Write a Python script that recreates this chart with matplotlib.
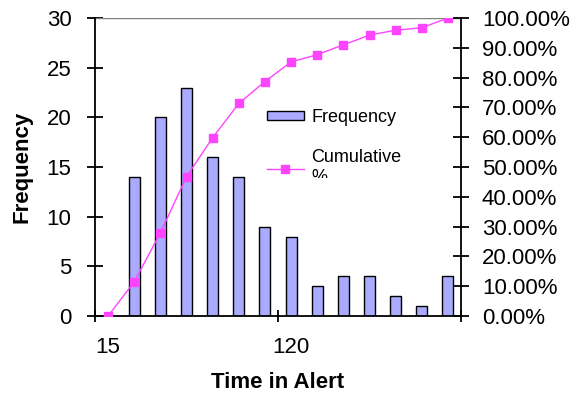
import numpy as np
import matplotlib.pyplot as plt
from matplotlib.transforms import Bbox

plt.rcParams['font.family'] = ['Liberation Sans', 'DejaVu Sans']

# histogram bins (Time in Alert) and counts
bins = [15, 30, 45, 60, 75, 90, 105, 120, 135, 150, 165, 180, 195, 210]
freq = [0, 14, 20, 23, 16, 14, 9, 8, 3, 4, 4, 2, 1, 4]
cum = np.cumsum(freq) / np.sum(freq) * 100

x = np.arange(len(bins))

fig = plt.figure(figsize=(5.76, 3.95), dpi=100)
ax = fig.add_axes([95/576, 1-316/395, (461-95)/576, (316-18)/395])
ax2 = ax.twinx()

ax.bar(x, freq, width=0.42, color='#aaaaff', edgecolor='black', linewidth=1, label='Frequency')
ax.set_xlim(-0.5, len(bins)-0.5)
ax.set_ylim(0, 30)
ax.set_yticks(range(0, 31, 5))
ax.axhline(30, color='gray', lw=1)

ax2.plot(x, cum, color='#ff44ff', marker='s', markersize=6, lw=1, label='Cumulative\n%')
ax2.set_ylim(0, 100)
ax2.set_yticks(range(0, 101, 10))
ax2.set_yticklabels(['%.2f%%' % v for v in range(0, 101, 10)])

# x tick marks at boundaries every 7 bins, labels at bin centres
ax.set_xticks([-0.5, 6.5, 13.5])
ax.set_xticklabels([])
ax.set_xticks([0, 7], minor=True)
ax.set_xticklabels([str(bins[0]), str(bins[7])], minor=True)
ax.tick_params(axis='x', which='minor', length=0, pad=15, labelsize=16)
ax.tick_params(axis='x', which='major', direction='inout', length=8, width=1.3)

for a in (ax, ax2):
    for s in a.spines.values():
        s.set_visible(False)
ax.spines['left'].set_visible(True)
ax.spines['bottom'].set_visible(True)
ax2.spines['right'].set_visible(True)
for s in ('left', 'bottom'):
    ax.spines[s].set_linewidth(1.3)
ax2.spines['right'].set_linewidth(1.3)

ax.tick_params(axis='y', direction='inout', length=12, width=1.3, labelsize=16, pad=11)
ax2.tick_params(axis='y', direction='inout', length=12, width=1.3, labelsize=16, pad=9)

ax.set_ylabel('Frequency', fontsize=16, fontweight='bold', labelpad=10)
ax.set_xlabel('Time in Alert', fontsize=16, fontweight='bold', labelpad=10)

h1, l1 = ax.get_legend_handles_labels()
h2, l2 = ax2.get_legend_handles_labels()
leg = ax2.legend(h1 + h2, l1 + l2, loc='upper left', bbox_to_anchor=(0.445, 0.725),
                 frameon=False, fontsize=13, handlelength=2.05, handleheight=0.45,
                 handletextpad=0.4, labelspacing=1.3, borderpad=0)
fig.canvas.draw()
t = leg.get_texts()[1]
bb = t.get_window_extent()
t.set_clip_box(Bbox([[bb.x0 - 5, bb.y0 + bb.height * 0.22], [bb.x1 + 5, bb.y1 + 5]]))
t.set_clip_on(True)

fig.savefig('out.png', dpi=100)
